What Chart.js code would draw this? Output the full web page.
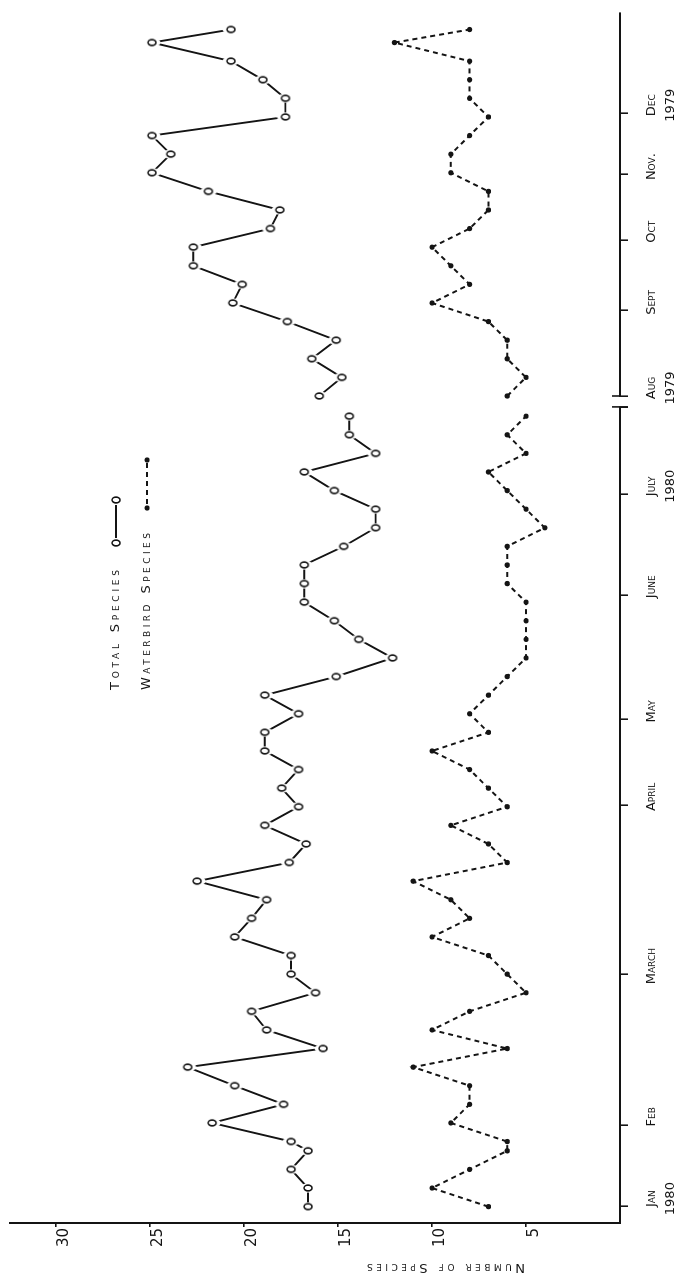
<!DOCTYPE html>
<html>
<head>
<meta charset="utf-8">
<title>Number of species, Aug 1979 – July 1980</title>
<script src="https://cdn.jsdelivr.net/npm/chart.js@4.4.1/dist/chart.umd.min.js"></script>
<style>
  html, body { margin: 0; padding: 0; background: #fff; }
  body { width: 697px; height: 1283px; overflow: hidden; position: relative; }
  /* the figure is laid out landscape and turned a quarter turn to read upward */
  #sheet {
    position: absolute; left: 0; top: 0;
    width: 1283px; height: 697px;
    transform-origin: 0 0;
    transform: translate(0, 1283px) rotate(-90deg);
  }
  #sheet canvas { position: absolute; left: 0; top: 0; }
</style>
</head>
<body>
<div id="sheet">
  <canvas id="c1980" width="1283" height="697"></canvas>
  <canvas id="c1979" width="1283" height="697"></canvas>
</div>
<script>
// ---- counts, January–July 1980 (sampling sequence; two January counts were a day apart)
const samples1980 = [0, 1, 2, 3, 3.5, 4.5, 5.5, 6.5, 7.5, 8.5, 9.5, 10.5, 11.5, 12.5, 13.5,
  14.5, 15.5, 16.5, 17.5, 18.5, 19.5, 20.5, 21.5, 22.5, 23.5, 24.5, 25.5, 26.5, 27.5, 28.5,
  29.5, 30.5, 31.5, 32.5, 33.5, 34.5, 35.5, 36.5, 37.5, 38.5, 39.5, 40.5, 41.5, 42.5];
const totalSpecies1980 = [16.6, 16.6, 17.5, 16.6, 17.5, 21.7, 17.9, 20.5, 23.0, 15.8,
  18.8, 19.6, 16.2, 17.5, 17.5, 20.5, 19.6, 18.8, 22.5, 17.6,
  16.7, 18.9, 17.1, 18.0, 17.1, 18.9, 18.9, 17.1, 18.9, 15.1,
  12.1, 13.9, 15.2, 16.8, 16.8, 16.8, 14.7, 13.0, 13.0, 15.2,
  16.8, 13.0, 14.4, 14.4];
const waterbirdSpecies1980 = [7, 10, 8, 6, 6, 9, 8, 8, 11, 6,
  10, 8, 5, 6, 7, 10, 8, 9, 11, 6,
  7, 9, 6, 7, 8, 10, 7, 8, 7, 6,
  5, 5, 5, 5, 6, 6, 6, 4, 5, 6,
  7, 5, 6, 5];

// ---- counts, August–December 1979 (weekly)
const samples1979 = [0, 1, 2, 3, 4, 5, 6, 7, 8, 9, 10, 11, 12, 13, 14, 15, 16, 17, 18, 19, 19.7];
const totalSpecies1979 = [16.0, 14.8, 16.4, 15.1, 17.7, 20.6, 20.1, 22.7, 22.7, 18.6,
  18.1, 21.9, 24.9, 23.9, 24.9, 17.8, 17.8, 19.0, 20.7, 24.9, 20.7];
const waterbirdSpecies1979 = [6, 5, 6, 6, 7, 10, 8, 9, 10, 8,
  7, 7, 9, 9, 8, 7, 8, 8, 8, 12, 8];

// ---- month marks along the sampling sequence
const monthTicks1980 = [0, 4.4, 12.5, 21.6, 26.2, 32.9, 38.3, 43];
const monthLabels1980 = [['Jan', '1980'], 'Feb', 'March', 'April', 'May', 'June', ['July', '1980'], ''];
const monthTicks1979 = [0, 4.6, 8.4, 11.9, 15.2];
const monthLabels1979 = [['Aug', '1979'], 'Sept', 'Oct', 'Nov.', ['Dec', '1979']];
const speciesTicks = [5, 10, 15, 20, 25, 30];

const INK = '#141414';
const FAMILY = "'DejaVu Sans', 'Liberation Sans', sans-serif";
Chart.defaults.font.family = FAMILY;
Chart.defaults.color = INK;

// open typed "o" marker with a white collar so the joining strokes stop short of it
const ringMark = (() => {
  const c = document.createElement('canvas');
  c.width = 10; c.height = 18;
  const g = c.getContext('2d');
  g.fillStyle = '#fff';
  g.beginPath(); g.ellipse(5, 9, 4.6, 8.6, 0, 0, Math.PI * 2); g.fill();
  g.strokeStyle = INK; g.lineWidth = 1.7;
  g.beginPath(); g.ellipse(5, 9, 2.9, 4.0, 0, 0, Math.PI * 2); g.stroke();
  return c;
})();

const pts = (xs, ys) => xs.map((x, i) => ({ x, y: ys[i] }));

function spacedText(ctx, text, x, y, width) {
  const w0 = ctx.measureText(text).width;
  if ('letterSpacing' in ctx && text.length > 1) {
    ctx.letterSpacing = ((width - w0) / (text.length - 1)).toFixed(2) + 'px';
  }
  ctx.fillText(text, x, y);
  if ('letterSpacing' in ctx) ctx.letterSpacing = '0px';
}

// key and value-axis caption
const captions = {
  id: 'captions',
  afterDraw(chart) {
    const ctx = chart.ctx;
    ctx.save();
    ctx.fillStyle = INK;
    ctx.strokeStyle = INK;
    ctx.textBaseline = 'middle';
    ctx.textAlign = 'left';
    ctx.font = 'small-caps 13px ' + FAMILY;

    // axis caption, set along the value axis
    ctx.save();
    ctx.translate(16, 446);
    ctx.rotate(-Math.PI / 2);
    spacedText(ctx, 'Number of Species', -79, 0, 158);
    ctx.restore();

    // key: total species
    spacedText(ctx, 'Total Species', 593, 116, 120);
    ctx.lineWidth = 1.9;
    ctx.beginPath(); ctx.moveTo(745, 116); ctx.lineTo(778, 116); ctx.stroke();
    ctx.drawImage(ringMark, 740 - 5, 116 - 9);
    ctx.drawImage(ringMark, 783 - 5, 116 - 9);

    // key: waterbird species
    spacedText(ctx, 'Waterbird Species', 593, 147, 157);
    ctx.lineWidth = 2;
    ctx.setLineDash([5, 4]);
    ctx.beginPath(); ctx.moveTo(779, 147); ctx.lineTo(820, 147); ctx.stroke();
    ctx.setLineDash([]);
    ctx.beginPath(); ctx.arc(775, 147, 2.6, 0, Math.PI * 2); ctx.fill();
    ctx.beginPath(); ctx.arc(823, 147, 2.6, 0, Math.PI * 2); ctx.fill();
    ctx.restore();
  }
};

// short stop strokes where each panel's time axis is broken off
const axisStop = {
  id: 'axisStop',
  afterDraw(chart, args, opts) {
    const x = chart.scales.x;
    const px = x.getPixelForValue(opts.at === 'max' ? x.max : x.min);
    const ctx = chart.ctx;
    ctx.save();
    ctx.strokeStyle = INK;
    ctx.lineWidth = 1.6;
    ctx.beginPath();
    ctx.moveTo(px, x.top - 8);
    ctx.lineTo(px, x.top + (opts.at === 'max' ? 8 : 0));
    ctx.stroke();
    ctx.restore();
  }
};

function drawPanel(id, p) {
  return new Chart(document.getElementById(id), {
    type: 'line',
    data: {
      datasets: [
        {
          label: 'Total Species',
          data: pts(p.samples, p.total),
          borderColor: INK, borderWidth: 1.9, tension: 0, fill: false, clip: false,
          pointStyle: ringMark, pointRadius: 5, pointHoverRadius: 5
        },
        {
          label: 'Waterbird Species',
          data: pts(p.samples, p.waterbird),
          borderColor: INK, borderWidth: 2, borderDash: [5, 4], tension: 0, fill: false, clip: false,
          pointStyle: 'circle', pointRadius: 2.6, pointHoverRadius: 2.6,
          pointBackgroundColor: INK, pointBorderColor: INK, pointBorderWidth: 0
        }
      ]
    },
    options: {
      responsive: false,
      animation: false,
      devicePixelRatio: 1,
      events: [],
      layout: { padding: p.padding },
      plugins: {
        legend: { display: false },
        tooltip: { enabled: false },
        axisStop: { at: p.axisStopAt }
      },
      scales: {
        x: {
          type: 'linear', position: 'bottom',
          min: p.xMin, max: p.xMax,
          afterBuildTicks: s => { s.ticks = p.monthTicks.map(value => ({ value })); },
          afterFit: s => { s.height = 77; },
          grid: { drawOnChartArea: false, drawTicks: true, tickLength: 8, color: INK, lineWidth: 1.6 },
          border: { display: true, color: INK, width: 2 },
          ticks: {
            autoSkip: false, maxRotation: 0, minRotation: 0,
            padding: 14, labelOffset: 8, color: INK,
            font: { size: 13, weight: 'small-caps', lineHeight: 1.45 },
            callback: (v, i) => p.monthLabels[i]
          }
        },
        y: {
          type: 'linear', position: 'left',
          display: p.showValueAxis,
          min: 0, max: 32.45,
          afterBuildTicks: s => { s.ticks = speciesTicks.map(value => ({ value })); },
          afterFit: s => { s.width = p.showValueAxis ? 60 : 0; },
          grid: { drawOnChartArea: false, drawTicks: true, tickLength: 4, color: INK, lineWidth: 1.6 },
          border: { display: true, color: INK, width: 2 },
          ticks: {
            padding: 1, labelOffset: 8, color: INK,
            font: { size: 15 },
            callback: v => String(v)
          }
        }
      }
    },
    plugins: [axisStop].concat(p.plugins || [])
  });
}

drawPanel('c1980', {
  samples: samples1980, total: totalSpecies1980, waterbird: waterbirdSpecies1980,
  monthTicks: monthTicks1980, monthLabels: monthLabels1980,
  xMin: -0.88, xMax: 43,
  padding: { left: 0, right: 406.9, top: 10, bottom: 0 },
  showValueAxis: true,
  axisStopAt: 'max',
  plugins: [captions]
});

drawPanel('c1979', {
  samples: samples1979, total: totalSpecies1979, waterbird: waterbirdSpecies1979,
  monthTicks: monthTicks1979, monthLabels: monthLabels1979,
  xMin: 0, xMax: 20.6,
  padding: { left: 887, right: 12.8, top: 10, bottom: 0 },
  showValueAxis: false,
  axisStopAt: 'min'
});
</script>
</body>
</html>
